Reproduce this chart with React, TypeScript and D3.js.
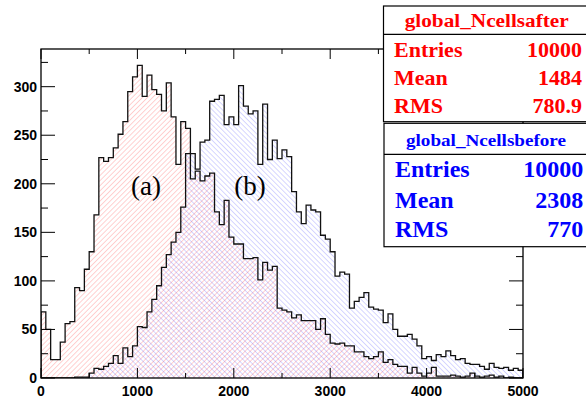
import React from 'react';
import * as d3 from 'd3';

const xMin = 0;
const xMax = 5000;
const binCount = 100;

// global_Ncellsafter (a), red
const afterCounts = [
  68, 50, 19, 19, 37, 56, 58, 93, 90, 112,
  130, 168, 227, 223, 227, 237, 251, 264, 295, 310,
  322, 290, 312, 297, 292, 275, 304, 269, 220, 264,
  257, 205, 213, 203, 208, 211, 171, 158, 183, 145,
  138, 138, 123, 123, 124, 101, 119, 111, 115, 72,
  70, 68, 62, 65, 59, 59, 59, 50, 61, 45,
  36, 35, 36, 33, 33, 27, 27, 22, 20, 22,
  27, 16, 19, 14, 12, 12, 5, 11, 5, 2,
  5, 11, 2, 2, 2, 3, 2, 1, 2, 5,
  2, 1, 2, 3, 1, 2, 0, 1, 0, 0,
];

// global_Ncellsbefore (b), blue
const beforeCounts = [
  0, 0, 0, 0, 0, 0, 0, 1, 1, 1,
  5, 10, 9, 12, 15, 23, 15, 31, 22, 33,
  53, 52, 68, 81, 95, 114, 127, 140, 150, 176,
  231, 231, 215, 243, 245, 285, 287, 291, 261, 269,
  261, 301, 280, 272, 275, 220, 282, 225, 245, 226,
  235, 228, 192, 171, 159, 178, 173, 171, 147, 143,
  130, 105, 109, 107, 72, 79, 83, 88, 73, 71,
  70, 57, 66, 50, 43, 43, 45, 40, 33, 20,
  22, 18, 24, 22, 28, 23, 19, 20, 15, 14,
  14, 12, 9, 15, 11, 10, 11, 8, 10, 8,
];

const xTickValues = [0, 1000, 2000, 3000, 4000, 5000];
const xMinorValues = [500, 1500, 2500, 3500, 4500];
const yTickValues = [0, 50, 100, 150, 200, 250, 300];
const yMinorValues = [25, 75, 125, 175, 225, 275, 325];

const statsAfterTitle = 'global_Ncellsafter';
const statsAfterLabels = ['Entries', 'Mean', 'RMS'];
const statsAfterValues = ['10000', '1484', '780.9'];
const statsBeforeTitle = 'global_Ncellsbefore';
const statsBeforeLabels = ['Entries', 'Mean', 'RMS'];
const statsBeforeValues = ['10000', '2308', '770'];

const W = 586;
const H = 399;
const L = 41, R = 523, T = 49, B = 378;

export default function App() {
  const x = d3.scaleLinear().domain([xMin, xMax]).range([L, R]);
  const y = d3.scaleLinear().domain([0, 338.8]).range([B, T]);
  const bw = (xMax - xMin) / binCount;

  const stepPath = (counts: number[]) => {
    const pts: [number, number][] = [[xMin, 0]];
    counts.forEach((c, i) => {
      pts.push([xMin + i * bw, c]);
      pts.push([xMin + (i + 1) * bw, c]);
    });
    pts.push([xMax, 0]);
    return d3.line<[number, number]>().x(d => x(d[0])).y(d => y(d[1]))(pts) || '';
  };

  const axisFont = '"Liberation Sans", Arial, Helvetica, sans-serif';
  const serif = '"Liberation Serif", "Times New Roman", Times, serif';

  return (
    <svg width={W} height={H} style={{ position: 'absolute', left: 0, top: 0, background: '#fff' }}>
      <defs>
        <pattern id="hatchRed" width="3.6" height="3.6" patternUnits="userSpaceOnUse" patternTransform="rotate(45)">
          <line x1="0" y1="0" x2="0" y2="3.6" stroke="#ff0000" strokeWidth="0.8" strokeOpacity="0.45" />
        </pattern>
        <pattern id="hatchBlue" width="3.6" height="3.6" patternUnits="userSpaceOnUse" patternTransform="rotate(-45)">
          <line x1="0" y1="0" x2="0" y2="3.6" stroke="#0000ff" strokeWidth="0.8" strokeOpacity="0.4" />
        </pattern>
        <clipPath id="plotClip">
          <rect x={L} y={T} width={R - L} height={B - T} />
        </clipPath>
      </defs>
      <rect x={0} y={0} width={W} height={H} fill="#fff" />

      <g clipPath="url(#plotClip)">
        <path d={stepPath(afterCounts)} fill="url(#hatchRed)" stroke="none" />
        <path d={stepPath(beforeCounts)} fill="url(#hatchBlue)" stroke="none" />
        <path d={stepPath(afterCounts)} fill="none" stroke="#111" strokeWidth={1.3} />
        <path d={stepPath(beforeCounts)} fill="none" stroke="#111" strokeWidth={1.3} />
      </g>

      {/* frame */}
      <rect x={L} y={T} width={R - L} height={B - T} fill="none" stroke="#000" strokeWidth={1.3} />

      {/* x ticks bottom & top */}
      {xTickValues.map(v => (
        <g key={'xt' + v}>
          <line x1={x(v)} x2={x(v)} y1={B} y2={B - 10} stroke="#000" strokeWidth={1} />
          <line x1={x(v)} x2={x(v)} y1={T} y2={T + 10} stroke="#000" strokeWidth={1} />
          <text x={x(v)} y={396} textAnchor="middle" fontFamily={axisFont} fontWeight="bold" fontSize={14}>{v}</text>
        </g>
      ))}
      {xMinorValues.map(v => (
        <g key={'xm' + v}>
          <line x1={x(v)} x2={x(v)} y1={B} y2={B - 5} stroke="#000" strokeWidth={1} />
          <line x1={x(v)} x2={x(v)} y1={T} y2={T + 5} stroke="#000" strokeWidth={1} />
        </g>
      ))}

      {/* y ticks left & right */}
      {yTickValues.map(v => (
        <g key={'yt' + v}>
          <line x1={L} x2={L + 14} y1={y(v)} y2={y(v)} stroke="#000" strokeWidth={1} />
          <line x1={R} x2={R - 14} y1={y(v)} y2={y(v)} stroke="#000" strokeWidth={1} />
          <text x={37} y={y(v) + 5} textAnchor="end" fontFamily={axisFont} fontWeight="bold" fontSize={14}>{v}</text>
        </g>
      ))}
      {yMinorValues.map(v => (
        <g key={'ym' + v}>
          <line x1={L} x2={L + 7} y1={y(v)} y2={y(v)} stroke="#000" strokeWidth={1} />
          <line x1={R} x2={R - 7} y1={y(v)} y2={y(v)} stroke="#000" strokeWidth={1} />
        </g>
      ))}

      {/* labels */}
      <text x={146} y={195} textAnchor="middle" fontFamily={serif} fontSize={27}>(a)</text>
      <text x={250} y={195} textAnchor="middle" fontFamily={serif} fontSize={27}>(b)</text>

      {/* stats box after (red) */}
      <g>
        <rect x={383.5} y={6} width={210} height={115.7} fill="#fff" stroke="#000" strokeWidth={1.2} />
        <line x1={383.5} x2={594} y1={34.3} y2={34.3} stroke="#000" strokeWidth={1.2} />
        <text x={486.7} y={27} textAnchor="middle" fontFamily={serif} fontWeight="bold" fontSize={18} fill="#ff0000"
          textLength={164} lengthAdjust="spacingAndGlyphs">{statsAfterTitle}</text>
        {statsAfterLabels.map((lab, i) => (
          <g key={'sa' + i}>
            <text x={394} y={57.3 + i * 28} fontFamily={serif} fontWeight="bold" fontSize={22} fill="#ff0000">{lab}</text>
            <text x={582} y={57.3 + i * 28} textAnchor="end" fontFamily={serif} fontWeight="bold" fontSize={22} fill="#ff0000">{statsAfterValues[i]}</text>
          </g>
        ))}
      </g>

      {/* stats box before (blue) */}
      <g>
        <rect x={384} y={123.3} width={210} height={123.4} fill="#fff" stroke="#000" strokeWidth={1.2} />
        <line x1={384} x2={594} y1={154.3} y2={154.3} stroke="#000" strokeWidth={1.2} />
        <text x={486} y={146} textAnchor="middle" fontFamily={serif} fontWeight="bold" fontSize={17} fill="#0000ff"
          textLength={160} lengthAdjust="spacingAndGlyphs">{statsBeforeTitle}</text>
        {statsBeforeLabels.map((lab, i) => (
          <g key={'sb' + i}>
            <text x={395} y={[176.7, 208.3, 237.3][i]} fontFamily={serif} fontWeight="bold" fontSize={24} fill="#0000ff">{lab}</text>
            <text x={583.3} y={[176.7, 208.3, 237.3][i]} textAnchor="end" fontFamily={serif} fontWeight="bold" fontSize={24} fill="#0000ff">{statsBeforeValues[i]}</text>
          </g>
        ))}
      </g>
    </svg>
  );
}
